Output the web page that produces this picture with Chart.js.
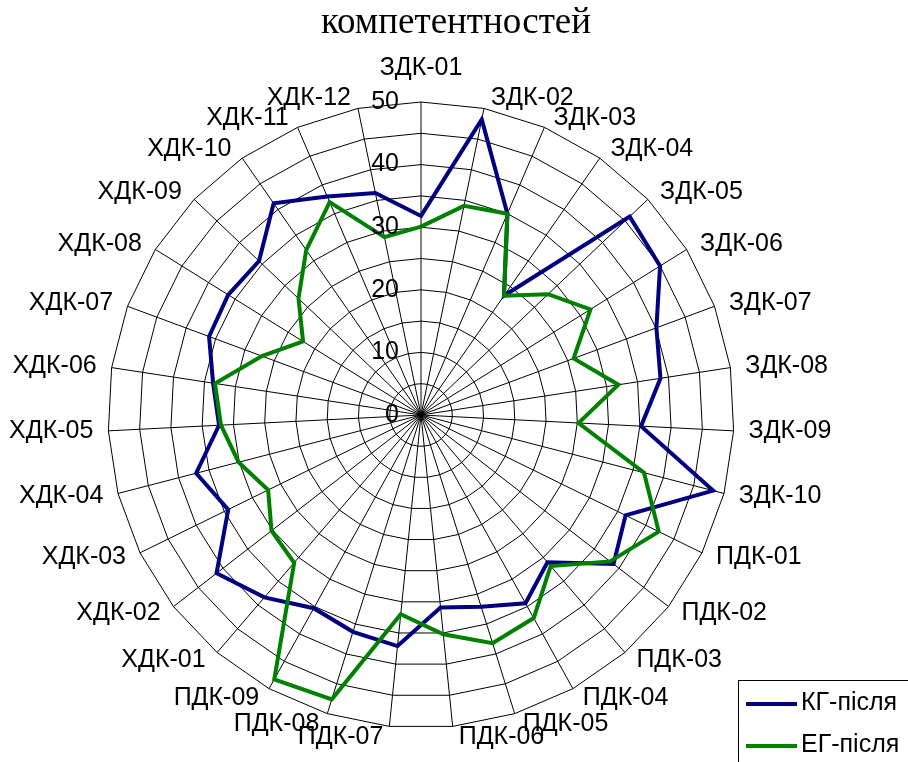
<!DOCTYPE html>
<html>
<head>
<meta charset="utf-8">
<title>компетентностей</title>
<script src="https://cdn.jsdelivr.net/npm/chart.js@4.4.1/dist/chart.umd.min.js"></script>
<style>
  html, body { margin: 0; padding: 0; background: #fff; overflow: hidden; }
  #wrap { width: 908px; height: 762px; }
</style>
</head>
<body>
<div id="wrap"><canvas id="radar" width="908" height="762"></canvas></div>
<script>
const titleText = "компетентностей";

const categories = [
  "ЗДК-01", "ЗДК-02", "ЗДК-03", "ЗДК-04", "ЗДК-05", "ЗДК-06", "ЗДК-07", "ЗДК-08", "ЗДК-09", "ЗДК-10",
  "ПДК-01", "ПДК-02", "ПДК-03", "ПДК-04", "ПДК-05", "ПДК-06", "ПДК-07", "ПДК-08", "ПДК-09",
  "ХДК-01", "ХДК-02", "ХДК-03", "ХДК-04", "ХДК-05", "ХДК-06", "ХДК-07", "ХДК-08", "ХДК-09",
  "ХДК-10", "ХДК-11", "ХДК-12",
];

const seriesNames = ["КГ-після", "ЕГ-після"];

// КГ-після
const kgValues = [
  31.8, 48.2, 35.0, 23.2, 46.0, 45.0, 40.1, 38.7, 35.2, 48.2,
  36.4, 38.9, 31.0, 34.4, 32.1, 30.9, 37.1, 36.3, 35.3,
  38.4, 41.3, 34.3, 37.1, 32.3, 33.6, 36.1, 36.3, 35.7,
  41.2, 38.0, 36.2,
];

// ЕГ-після
const egValues = [
  30.1, 34.1, 35.0, 23.2, 28.0, 31.9, 26.0, 31.9, 25.2, 36.8,
  42.3, 38.2, 31.8, 37.1, 38.2, 35.2, 32.0, 47.6, 48.3,
  31.1, 30.2, 27.2, 30.1, 32.0, 33.3, 27.1, 22.2, 27.0,
  32.1, 37.0, 29.0,
];

const axisMin = 0;
const axisMax = 50;
const gridStep = 5;
const labelStep = 10;

const seriesColors = ["#000080", "#008000"];

const textFont = '25px "Liberation Sans", Arial, sans-serif';

// Excel-like text: tick labels left of the axis, category labels hugging the rim,
// the title and a boxed legend in the lower right corner
const excelText = {
  id: "excelText",
  afterDraw(chart) {
    const ctx = chart.ctx;
    const scale = chart.scales.r;
    const R = scale.drawingArea;

    ctx.save();
    ctx.fillStyle = "#000";
    ctx.font = textFont;
    ctx.textBaseline = "middle";

    // value labels
    ctx.textAlign = "right";
    scale.ticks.forEach((tick) => {
      if (tick.value % labelStep !== 0) return;
      const y = scale.yCenter - scale.getDistanceFromCenterForValue(tick.value);
      ctx.fillText(String(tick.value), scale.xCenter - 22, y);
    });

    // category labels
    chart.data.labels.forEach((label, i) => {
      const p = scale.getPointPosition(i, R);
      const sin = (p.x - scale.xCenter) / R;
      const cos = (scale.yCenter - p.y) / R;
      if (i === 0) {
        ctx.textAlign = "center";
        ctx.fillText(label, p.x, p.y - 34);
        return;
      }
      const y = p.y - 10.5 * cos;
      if (sin > 0) {
        ctx.textAlign = "left";
        ctx.fillText(label, p.x + 5 + 10 * sin, y);
      } else {
        ctx.textAlign = "right";
        ctx.fillText(label, p.x - 5 + 10 * sin, y);
      }
    });

    // title (second line only shows in the source)
    ctx.font = '37px "Liberation Serif", "Times New Roman", serif';
    ctx.textAlign = "center";
    ctx.textBaseline = "alphabetic";
    ctx.fillText(titleText, 456, 33);

    // legend box
    ctx.strokeStyle = "#000";
    ctx.lineWidth = 1;
    ctx.strokeRect(738.5, 680.5, 200, 120);
    ctx.font = textFont;
    ctx.textAlign = "left";
    ctx.textBaseline = "middle";
    chart.data.datasets.forEach((ds, i) => {
      const y = 704 + i * 42;
      ctx.strokeStyle = ds.borderColor;
      ctx.lineWidth = 4;
      ctx.beginPath();
      ctx.moveTo(746, y);
      ctx.lineTo(797, y);
      ctx.stroke();
      ctx.fillText(ds.label, 801, y - 1);
    });

    ctx.restore();
  },
};

function createRadar() {
  return new Chart("radar", {
    type: "radar",
    plugins: [excelText],
    data: {
      labels: categories,
      datasets: [
        {
          label: seriesNames[0],
          data: kgValues,
          borderColor: seriesColors[0],
          borderWidth: 4,
          fill: false,
          pointRadius: 0,
          order: 1,
        },
        {
          label: seriesNames[1],
          data: egValues,
          borderColor: seriesColors[1],
          borderWidth: 4,
          fill: false,
          pointRadius: 0,
          order: 0,
        },
      ],
    },
    options: {
      responsive: false,
      animation: false,
      layout: { padding: { left: 108, top: 102, right: 174, bottom: 34 } },
      plugins: {
        legend: { display: false },
        title: { display: false },
        tooltip: { enabled: false },
      },
      elements: { line: { tension: 0, borderJoinStyle: "miter" } },
      scales: {
        r: {
          min: axisMin,
          max: axisMax,
          ticks: { stepSize: gridStep, display: false },
          grid: { color: "#000", lineWidth: 1, circular: false },
          angleLines: { color: "#000", lineWidth: 1 },
          pointLabels: { display: false },
        },
      },
    },
  });
}

createRadar();
</script>
</body>
</html>
